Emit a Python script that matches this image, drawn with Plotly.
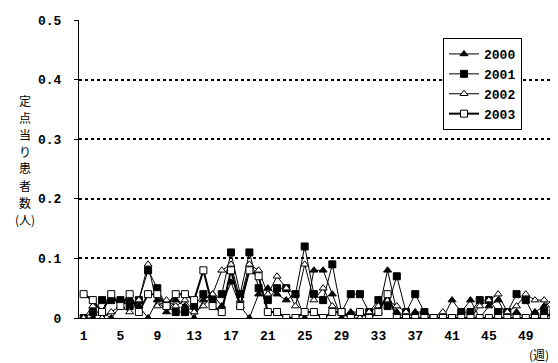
import plotly.graph_objects as go

weeks = list(range(1, 53))
tick_weeks = [1, 5, 9, 13, 17, 21, 25, 29, 33, 37, 41, 45, 49]
y_ticks = [0, 0.1, 0.2, 0.3, 0.4, 0.5]
y_ticktext = ["0", "0.1", "0.2", "0.3", "0.4", "0.5"]

y2000 = [0, 0, 0.01, 0, 0.02, 0.03, 0.02, 0, 0.03, 0.01, 0.03, 0.02, 0, 0.03, 0.04, 0.02,
         0.06, 0.02, 0, 0.04, 0.05, 0.04, 0.03, 0.04, 0, 0.08, 0.08, 0.04, 0, 0.01, 0.01, 0,
         0.01, 0.08, 0.01, 0, 0.01, 0.01, 0, 0, 0.03, 0.01, 0.03, 0, 0.02, 0.03, 0, 0.01,
         0, 0.01, 0.02, 0.03]
y2001 = [0, 0.01, 0.03, 0.03, 0.03, 0.02, 0.03, 0.08, 0.05, 0.02, 0.01, 0.01, 0.02, 0.04, 0.03, 0.04,
         0.11, 0.04, 0.11, 0.05, 0.03, 0.05, 0.05, 0.04, 0.12, 0.04, 0.03, 0.09, 0.01, 0.04, 0.04, 0.01,
         0.03, 0.02, 0.07, 0.01, 0.04, 0.01, 0, 0, 0, 0.01, 0.01, 0.03, 0.03, 0.01, 0.01, 0.04,
         0.03, 0, 0.01, 0]
y2002 = [0, 0.02, 0, 0.01, 0.02, 0.01, 0.03, 0.09, 0.02, 0.03, 0.02, 0.03, 0.01, 0.02, 0.04, 0.08,
         0.09, 0.03, 0.09, 0.08, 0.04, 0.07, 0.05, 0.02, 0.09, 0.03, 0.05, 0.02, 0.01, 0, 0, 0.01,
         0.02, 0.03, 0.02, 0.01, 0, 0, 0, 0.01, 0, 0, 0, 0.02, 0.03, 0.04, 0.01, 0.02,
         0.04, 0.03, 0.03, 0.01]
y2003 = [0.04, 0.03, 0.01, 0.04, 0.02, 0.04, 0.01, 0.04, 0.04, 0.02, 0.04, 0.04, 0.03, 0.08, 0.02, 0.01,
         0.08, 0.02, 0.08, 0.07, 0.01, 0.01, 0, 0, 0.01, 0.01, 0, 0.01, 0.01, 0, 0.01, 0,
         0.01, 0.04, 0, 0, 0, 0, 0, 0, 0, 0, 0, 0, 0, 0, 0, 0,
         0, 0, 0, 0.01]

series_names = ["2000", "2001", "2002", "2003"]
series_values = [y2000, y2001, y2002, y2003]
series_symbols = ["triangle-up", "square", "triangle-up", "square"]
series_fills = ["black", "black", "white", "white"]
series_widths = [1, 1, 1, 2]

fig = go.Figure()
for name, ys, sym, fill, lw in zip(series_names, series_values, series_symbols,
                                   series_fills, series_widths):
    fig.add_trace(go.Scatter(
        x=weeks, y=ys, name=name, mode="lines+markers",
        line=dict(color="black", width=lw),
        marker=dict(symbol=sym, size=7, color=fill, line=dict(color="black", width=1)),
    ))

# page has an 8px body margin; plot area in page pixels:
PX0, PX1, PY0, PY1 = 79, 558, 20, 318
W, H = 550, 355
ML, MT = PX0 - 8, PY0 - 8
MR = (8 + W) - PX1
MB = (8 + H) - PY1
pw, ph = PX1 - PX0, PY1 - PY0


def px(x):
    return (x - PX0) / pw


def py(y):
    return 1 - (y - PY0) / ph


mono = "Liberation Mono"
fig.update_layout(
    width=W, height=H,
    margin=dict(l=ML, r=MR, t=MT, b=MB, autoexpand=False),
    paper_bgcolor="white", plot_bgcolor="white",
    font=dict(family=mono, size=13, color="black"),
    showlegend=True,
    legend=dict(
        x=px(443), y=py(38), xanchor="left", yanchor="top",
        bordercolor="black", borderwidth=1, bgcolor="white",
        font=dict(family=mono, size=13, color="black", weight="bold"),
        tracegroupgap=0, itemwidth=30,
    ),
    xaxis=dict(
        range=[0.5, 52.5], tickmode="array", tickvals=tick_weeks,
        ticktext=[str(t) for t in tick_weeks],
        showgrid=False, zeroline=False, showline=True, linecolor="black", linewidth=1,
        ticks="", tickfont=dict(family=mono, size=13, weight="bold"), ticklabelstandoff=5,
    ),
    yaxis=dict(
        range=[0, 0.5], tickmode="array", tickvals=y_ticks, ticktext=y_ticktext,
        showgrid=True, gridcolor="black", griddash="3px,3px", gridwidth=1.5,
        zeroline=False, showline=True, linecolor="black", linewidth=1,
        ticks="outside", ticklen=4, tickcolor="black",
        tickfont=dict(family=mono, size=13, weight="bold"), ticklabelstandoff=10,
    ),
)

ylabel_chars = list("定点当り患者数") + ["(人)"]
for i, ch in enumerate(ylabel_chars):
    fig.add_annotation(text=ch, xref="paper", yref="paper",
                       x=px(25), y=py(100 + 17 * i),
                       showarrow=False, xanchor="center", yanchor="middle", borderpad=0,
                       font=dict(family="Noto Sans CJK JP", size=12, color="black"))
fig.add_annotation(text="(週)", xref="paper", yref="paper",
                   x=px(539), y=py(354),
                   showarrow=False, xanchor="center", yanchor="middle", borderpad=0,
                   font=dict(family="Noto Sans CJK JP", size=12, color="black"))

fig.write_html("out.html")
